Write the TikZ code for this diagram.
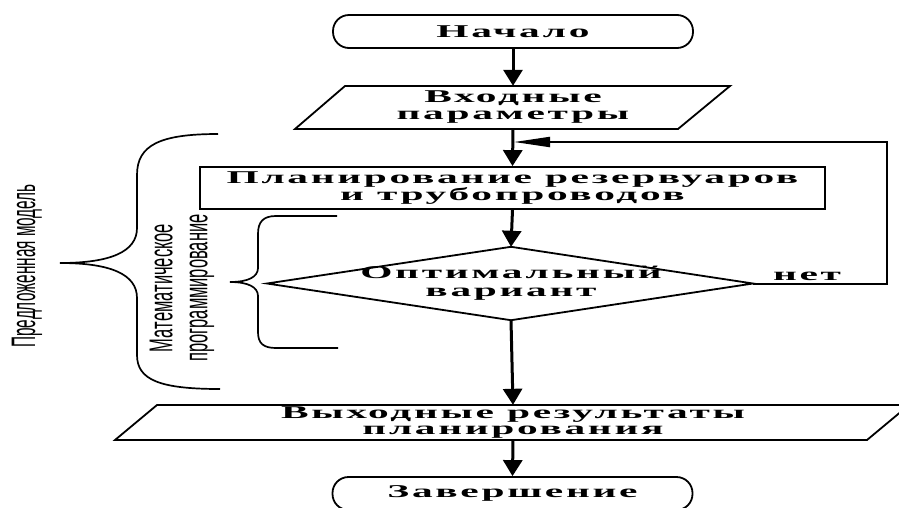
\documentclass[tikz,border=0pt]{standalone}
\usepackage{fontspec}
\usetikzlibrary{arrows.meta}
\newfontfamily\flowfont[FakeStretch=2.3,LetterSpace=15,BoldFeatures={FakeStretch=2.3,LetterSpace=15}]{Liberation Serif}
\newfontfamily\sidefont[FakeStretch=0.45]{Liberation Sans}
\newfontfamily\mathsidefont[FakeStretch=0.5]{Liberation Sans}
\tikzset{
  flowtext/.style={font=\flowfont\bfseries\fontsize{18}{16}\selectfont, align=center, inner sep=0pt},
  terminal/.style={draw, line width=1.8pt, rounded corners=16pt, minimum width=360pt, minimum height=33pt, flowtext},
  procbox/.style={draw, line width=1.8pt, minimum width=625pt, minimum height=42pt, flowtext},
  shapeline/.style={line width=1.8pt, line join=miter},
  bigarrow/.style={line width=3pt, -{Triangle[width=19pt,length=16pt]}},
  loopline/.style={line width=2pt, -{Triangle[width=10pt,length=36pt]}},
  bracestyle/.style={line width=1.7pt},
  sidetext/.style={font=\sidefont\fontsize{34}{34}\selectfont, rotate=90, inner sep=0pt},
  sidetextb/.style={font=\mathsidefont\fontsize{33}{35}\selectfont, rotate=90, align=center, inner sep=0pt}
}
\begin{document}
\begin{tikzpicture}[x=1pt,y=-1pt]
\clip (0,0) rectangle (899,507);
\fill[white] (0,0) rectangle (899,507);
% terminals and boxes
\node[terminal] (start) at (513,31.5) {Начало};
\draw[shapeline] (345,86) -- (730,86) -- (678,129) -- (295,129) -- cycle;
\node[flowtext, font=\flowfont\bfseries\fontsize{18}{17}\selectfont, minimum width=380pt, minimum height=43pt] (in) at (513,107.5) {Входные\\параметры};
\node[procbox] (plan) at (512.5,188) {Планирование резервуаров\\и трубопроводов};
% decision (diamond drawn round its text node)
\node[flowtext, font=\flowfont\bfseries\fontsize{18}{18}\selectfont, minimum width=200pt, minimum height=73pt] (dec) at (511,283.5) {Оптимальный\\вариант};
\coordinate (dleft) at (267,283.5);
\coordinate (dright) at (753,283.5);
\draw[shapeline] (dec.north) -- (dright) -- (dec.south) -- (dleft) -- cycle;
\draw[shapeline] (157,405) -- (909,405) -- (867,440) -- (115,440) -- cycle;
\node[flowtext, minimum width=600pt, minimum height=35pt] (out) at (513,422.5) {Выходные результаты\\планирования};
\node[terminal] (end) at (512.5,493.5) {Завершение};
\node[flowtext, anchor=base] (no) at (807,280) {нет};
\coordinate (loopin) at (514,142);
\coordinate (loopc1) at (887,283.5);
\coordinate (loopc2) at (887,142);
% connectors
\draw[bigarrow] (start.south) -- (in.north);
\draw[bigarrow] (in.south) -- (plan.north);
\draw[bigarrow] (plan.south) -- (dec.north);
\draw[bigarrow] (dec.south) -- (out.north);
\draw[bigarrow] (out.south) -- (end.north);
\draw[loopline] (dright) -- (loopc1) -- (loopc2) -- (loopin);
% outer brace
\draw[bracestyle] (218,134) .. controls (160,134) and (137,145) .. (137,175)
  -- (137,228) .. controls (137,252) and (110,263) .. (60,263)
  .. controls (110,263) and (137,274) .. (137,298)
  -- (137,355) .. controls (137,380) and (160,389) .. (220,389);
% inner brace
\draw[bracestyle] (337,216) -- (276,216) .. controls (263,216) and (258,222) .. (258,234)
  -- (258,268) .. controls (258,277) and (248,282) .. (230,282)
  .. controls (248,282) and (258,287) .. (258,296)
  -- (258,332) .. controls (258,343) and (263,348) .. (276,348) -- (338,348);
% side labels
\node[sidetext] (model) at (27,266) {Предложенная модель};
\node[sidetextb] (math) at (182,288) {Математическое\\программирование};
\end{tikzpicture}
\end{document}
